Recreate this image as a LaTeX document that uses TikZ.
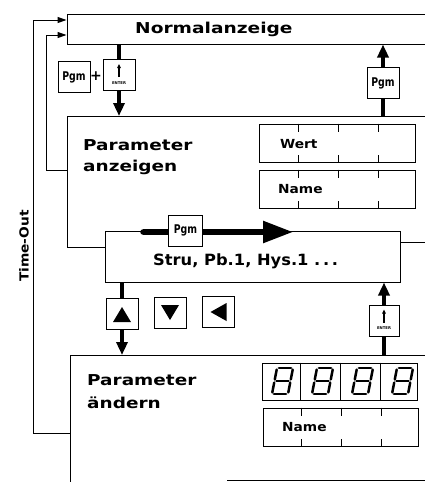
\documentclass[tikz,border=0pt]{standalone}
\usepackage{fontspec}
\usepackage{graphicx}
\usetikzlibrary{arrows.meta}
\newfontfamily\lab{DejaVu Sans}
\newcommand\hs[2]{\scalebox{#1}[1]{#2}}
\newcommand\entglyph[1]{%
  \draw[line width=1.1pt,-{Triangle[length=4pt,width=3.5pt]}] ([yshift=-2pt]#1.center) -- ([yshift=11pt]#1.center);
  \node[font=\lab\bfseries\fontsize{3.8}{4}\selectfont,inner sep=0pt] (#1t) at ([yshift=-8pt]#1.center) {ENTER};}
\begin{document}
\begin{tikzpicture}[x=1pt,y=-1pt,
  box/.style={draw,line width=1pt,inner sep=0pt},
  key/.style={draw,line width=1pt,fill=white,minimum width=32pt,minimum height=31pt,inner sep=0pt,font=\lab\bfseries\fontsize{12}{12}\selectfont},
  big/.style={font=\lab\bfseries\fontsize{15}{18}\selectfont,inner sep=0pt},
  small/.style={font=\lab\bfseries\fontsize{12.5}{15}\selectfont,inner sep=0pt},
  fat/.style={line width=4pt},
  fatarr/.style={line width=4pt,-{Triangle[length=13pt,width=11pt]}},
  thinarr/.style={line width=1pt,-{Triangle[length=9pt,width=6pt]}},
  edge/.style={line width=1pt},
  seg/.style={line width=2.5pt,line cap=round}
]
\clip (0,0) rectangle (425,482);
\fill[white] (0,0) rectangle (425,482);
% boxes
\node[box,minimum width=373pt,minimum height=30pt] (norm) at (253.5,29) {};
\node[big,anchor=base west] (normt) at (135,33) {\hs{1.24}{Normalanzeige}};
\coordinate (paTL) at (67,116);
\coordinate (paBL) at (67,247);
\node[box,minimum width=295pt,minimum height=51pt] (stru) at (252.5,256.5) {};
\coordinate (sr) at (400,242);
\draw[edge] (425,116) -- (paTL) -- (paBL) -- (paBL -| stru.west);
\draw[edge] (sr) -- (425,242);
\node[big,anchor=base west] (pa1) at (83,150) {\hs{1.23}{Parameter}};
\node[big,anchor=base west] (pa2) at (83,171) {\hs{1.23}{anzeigen}};
\node[big,font=\lab\bfseries\fontsize{15.5}{18}\selectfont,anchor=base west] (strut) at (153,265) {\hs{1.05}{Stru, Pb.1, Hys.1 .\,.\,.}};
\node[box,minimum width=156pt,minimum height=38pt] (wert) at (337,143) {};
\node[box,minimum width=156pt,minimum height=38pt] (name1) at (337,189) {};
\node[small,anchor=base west] (wertt) at (280,148) {\hs{1.1}{Wert}};
\node[small,anchor=base west] (namet1) at (278,193) {\hs{1.1}{Name}};
% Parameter aendern
\coordinate (paeTL) at (70,355);
\coordinate (paeBL) at (70,485);
\draw[edge] (425,355) -- (paeTL) -- (paeBL);
\coordinate (bl) at (227,480);
\draw[edge] (bl) -- (425,480);
\node[big,anchor=base west] (pe1) at (87,385) {\hs{1.23}{Parameter}};
\node[big,anchor=base west] (pe2) at (87,408) {\hs{1.23}{ändern}};
\node[box,minimum width=155pt,minimum height=37pt] (digits) at (339.5,381.5) {};
\foreach \x in {-39.5,0.5,40.5}
  \draw[edge] ([xshift=\x pt]digits.north) -- ([xshift=\x pt]digits.south);
\foreach \d in {0,40,80,120}
  \foreach \ua/\va/\ub/\vb in {.12/1/.88/1,.12/.5/.88/.5,.12/0/.88/0,0/.56/0/.94,0/.06/0/.44,1/.56/1/.94,1/.06/1/.44}
    \draw[seg] ({272+\d+16*\ua+5*\va},{394-26*\va}) -- ({272+\d+16*\ub+5*\vb},{394-26*\vb});
\node[box,minimum width=155pt,minimum height=38pt] (name2) at (340.5,427) {};
\node[small,anchor=base west] (namet2) at (282,431) {\hs{1.1}{Name}};
\foreach \b in {wert,name1,name2}
  \foreach \x in {-39,1,41} {
    \draw[edge] ([xshift=\x pt]\b.north) -- ++(0,8);
    \draw[edge] ([xshift=\x pt]\b.south) -- ++(0,-8);
  }
% keys
\node[key] (pgmA) at (74,77) {\hs{0.78}{Pgm}};
\node[font=\lab\bfseries\fontsize{14}{14}\selectfont,inner sep=0pt] (plus) at (96,76) {+};
\node[key] (entA) at (119,75) {};
\entglyph{entA}
\node[key] (pgmB) at (383,83) {\hs{0.78}{Pgm}};
\node[key,minimum width=34pt] (pgmC) at (185.5,230.5) {\hs{0.78}{Pgm}};
\node[key] (up) at (122,314) {};
\node[key] (down) at (170,313) {};
\node[key] (left) at (218.5,312) {};
\node[key,minimum width=30pt] (entB) at (384,320.5) {};
\entglyph{entB}
\fill ([shift={(-9,8)}]up.center) -- ([shift={(9,8)}]up.center) -- ([shift={(0,-7)}]up.center) -- cycle;
\fill ([shift={(-9,-8)}]down.center) -- ([shift={(9,-8)}]down.center) -- ([shift={(0,7)}]down.center) -- cycle;
\fill ([shift={(-8,0)}]left.center) -- ([shift={(8,-9)}]left.center) -- ([shift={(8,9)}]left.center) -- cycle;
% thick connectors
\draw[fat] (norm.south -| entA) -- (entA.north);
\draw[fatarr] (entA.south) -- (entA |- paTL);
\draw[fat] (pgmB |- paTL) -- (pgmB.south);
\draw[fatarr] (pgmB.north) -- (pgmB |- norm.south);
\draw[fat] (stru.south -| up) -- (up.north);
\draw[fatarr] (up.south) -- (up |- paeTL);
\draw[fat] (entB |- paeTL) -- (entB.south);
\draw[fatarr] (entB.north) -- (entB |- stru.south);
% big Pgm arrow
\coordinate (bs) at (143,232);
\coordinate (be) at (293,232);
\fill (bs) circle (2.75pt);
\draw[line width=5.5pt] (bs) -- (pgmC.west |- bs);
\draw[line width=5.5pt,-{Triangle[length=30pt,width=21pt]}] (pgmC.east |- bs) -- (be);
% time-out loops
\coordinate (l1) at (67,170);
\coordinate (l2) at (70,433);
\coordinate (c1) at (46,35);
\coordinate (c2) at (33,20);
\draw[thinarr] (l1) -| (c1) -- (c1 -| norm.west);
\draw[thinarr] (l2) -| (c2) -- (c2 -| norm.west);
\node[small,rotate=90] (to) at (24,246) {\hs{1.1}{Time-Out}};
\end{tikzpicture}
\end{document}
